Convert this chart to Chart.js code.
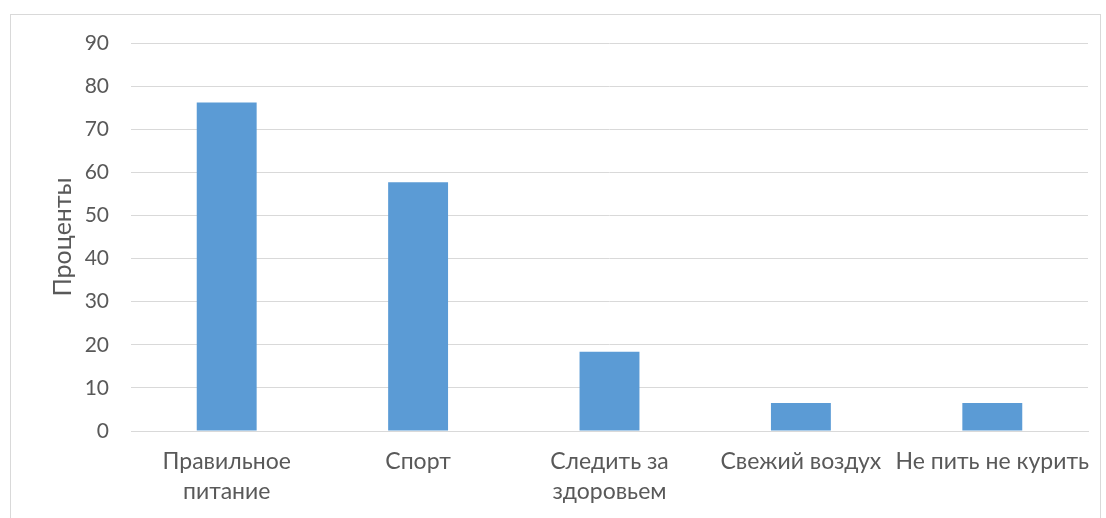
<!DOCTYPE html>
<html>
<head>
<meta charset="utf-8">
<script src="https://cdn.jsdelivr.net/npm/chart.js@4"></script>
<style>
  html, body { margin: 0; padding: 0; background: #fff; }
  #wrap { position: relative; width: 1106px; height: 518px; }
  #frame { position: absolute; left: 10px; top: 14px; width: 1089px; height: 520px; border: 1px solid #d9d9d9; }
  canvas { position: absolute; left: 0; top: 0; }
</style>
</head>
<body>
<div id="wrap">
  <div id="frame"></div>
  <canvas id="chart" width="1106" height="518"></canvas>
</div>
<script>
// данные диаграммы
var categories = [['Правильное', 'питание'], 'Спорт', ['Следить за', 'здоровьем'], 'Свежий воздух', 'Не пить не курить'];
var values = [76.2, 57.7, 18.4, 6.5, 6.5];
var yTicks = [0, 10, 20, 30, 40, 50, 60, 70, 80, 90];
var yTitle = 'Проценты';

var textColor = '#595959';
var fontFamily = 'Lato, "Open Sans", sans-serif';

var ctx = document.getElementById('chart').getContext('2d');
var chart = new Chart(ctx, {
  type: 'bar',
  data: {
    labels: categories,
    datasets: [{
      data: values,
      backgroundColor: '#5b9bd5',
      borderWidth: 0,
      barPercentage: 0.313,
      categoryPercentage: 1
    }]
  },
  options: {
    responsive: false,
    animation: false,
    layout: { padding: { left: 10, right: 18, top: 43, bottom: 0 } },
    plugins: { legend: { display: false }, tooltip: { enabled: false } },
    scales: {
      x: {
        grid: { display: false },
        border: { color: '#d9d9d9', width: 1 },
        ticks: { color: textColor, font: { family: fontFamily, size: 23, lineHeight: 1.3 }, padding: 8, maxRotation: 0, autoSkip: false },
        afterFit: function (scale) { scale.height = 87; }
      },
      y: {
        min: yTicks[0],
        max: yTicks[yTicks.length - 1],
        afterBuildTicks: function (scale) { scale.ticks = yTicks.map(function (v) { return { value: v }; }); },
        grid: { color: '#d9d9d9', drawTicks: false },
        border: { display: false },
        ticks: { color: textColor, font: { family: fontFamily, size: 21 }, padding: 22 },
        title: { display: true, text: yTitle, color: textColor, font: { family: fontFamily, size: 25 }, padding: { top: 38, bottom: 4 } },
        afterFit: function (scale) { scale.width = 121; }
      }
    }
  }
});
</script>
</body>
</html>
